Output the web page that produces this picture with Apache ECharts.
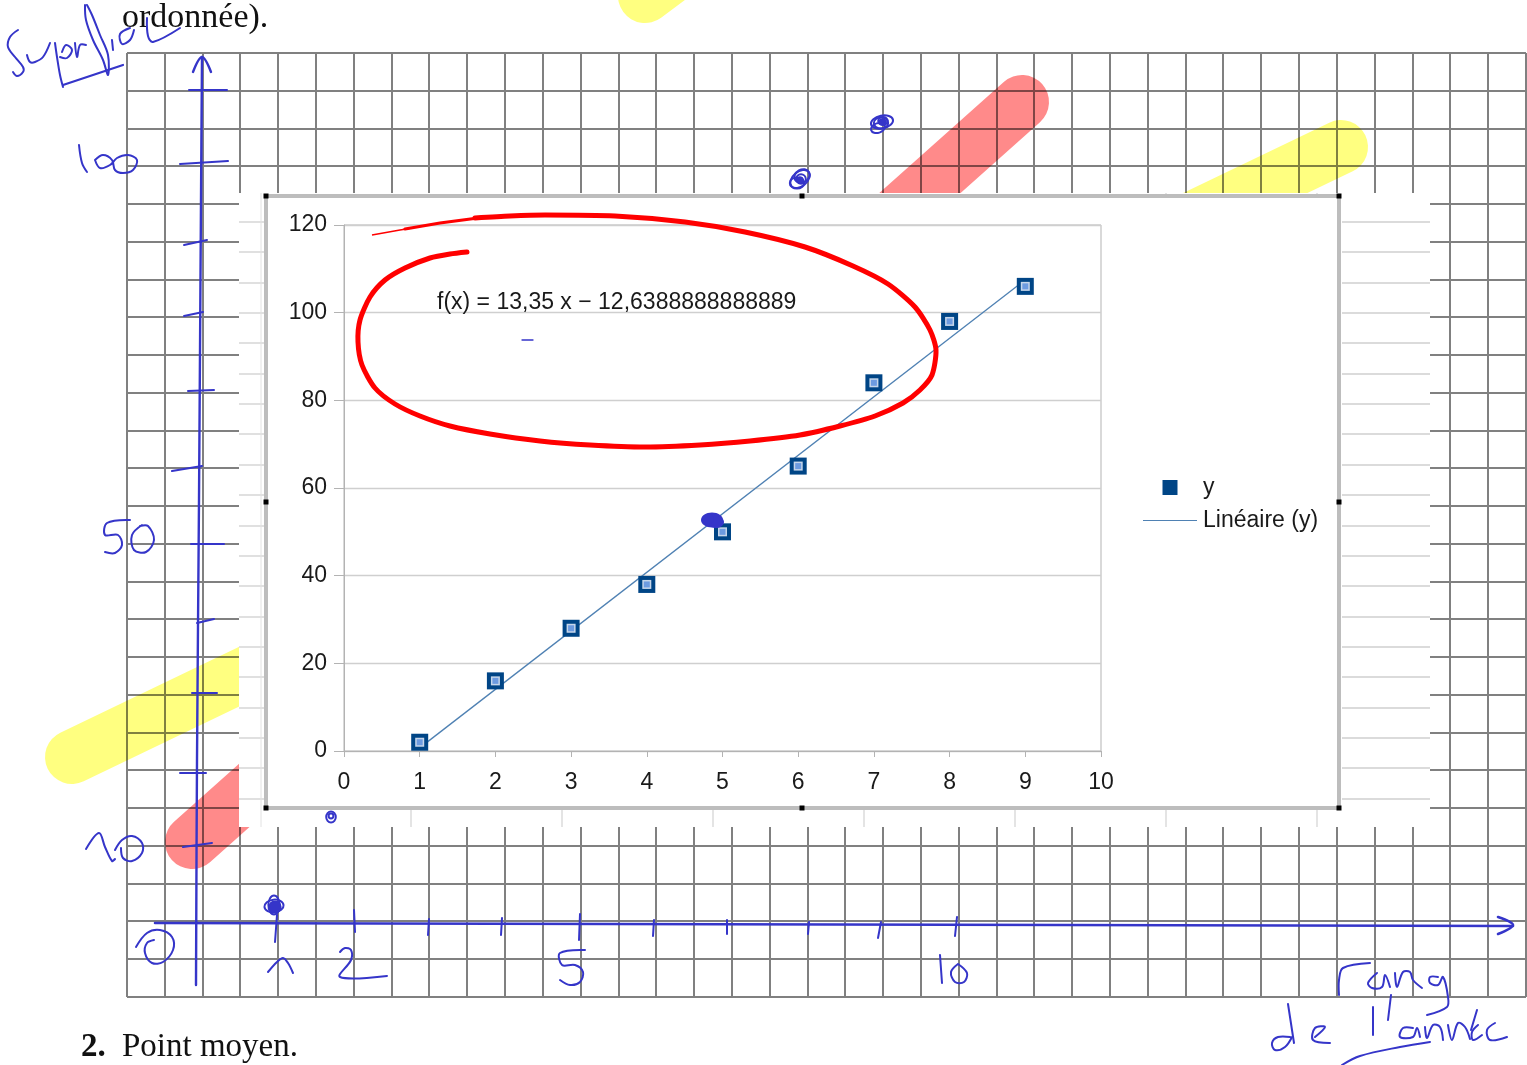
<!DOCTYPE html>
<html><head><meta charset="utf-8">
<style>html,body{margin:0;padding:0;background:#fff}#c{width:1527px;height:1065px}</style>
<script src="https://cdn.jsdelivr.net/npm/echarts@6/dist/echarts.min.js"></script>
</head><body><div id="c"></div>
<script>
// ---- chart data ----
const rankValues = [1,2,3,4,5,6,7,8,9];
const areaValues = [2,16,28,38,50,65,84,98,106];
const trendRanks = [1,9];
const trendValues = [0.71,107.51];
const equationText = 'f(x) = 13,35 x \u2212 12,6388888888889';
const legendPoints = 'y';
const legendTrend = 'Lin\u00e9aire (y)';
const BLUE = '#3535c9', INK = '#1a1a1a';

// ---- handwriting / decoration over the chart ----
const inkStrokes = [
 // vertical axis + arrow
 [2.4,[[202,57],[201,200],[199,500],[197,760],[196,985]]],
 [2.4,[[193,72],[202,57],[211,72]]],
 // y ticks
 [2,[[189,90],[227,90]]],[2,[[180,164],[228,161]]],[2,[[184,245],[207,240]]],[2,[[184,316],[203,312]]],
 [2,[[188,391],[214,390]]],[2,[[172,471],[202,466]]],[2,[[191,544],[224,544]]],[2,[[197,623],[214,619]]],
 [2,[[192,693],[217,693]]],[2,[[180,773],[206,773]]],[2,[[183,847],[212,843]]],
 // horizontal axis + arrow
 [2.6,[[155,923],[1513,926]]],
 [2.6,[[1498,917],[1513,925],[1498,934]]],
 // x ticks
 [2,[[277,915],[275,942]]],[2,[[354,910],[355,932]]],[2,[[429,919],[428,935]]],[2,[[502,918],[501,935]]],
 [2,[[580,914],[579,940]]],[2,[[654,920],[653,936]]],[2,[[727,920],[727,934]]],[2,[[809,922],[808,934]]],
 [2,[[881,922],[878,938]]],[2,[[957,917],[955,936]]],
 // axis numbers
 [2,[[136,947],[147,933],[160,930],[172,937],[173,950],[163,962],[152,963],[145,953],[147,943],[154,940]]],
 [2,[[268,972],[277,962],[283,958],[288,963],[293,973]]],
 [2,[[340,952],[345,948],[351,950],[351,960],[340,977],[387,976]]],
 [2,[[585,950],[560,953],[562,965],[575,965],[583,972],[580,982],[570,985],[560,980]]],
 [2,[[940,955],[942,983]]],
 [2,[[958,964],[951,972],[955,982],[964,982],[967,973],[958,964]]],
 [2,[[130,520],[107,523],[105,535],[118,535],[122,545],[115,553],[105,552]]],
 [2,[[142,525],[132,535],[134,550],[146,552],[154,540],[148,526],[140,526]]],
 [2,[[79,145],[82,163],[87,172]]],
 [2,[[95,160],[103,155],[112,160],[115,170],[123,173],[133,170],[137,160],[128,155],[117,158],[110,165],[100,168],[95,160]]],
 [2,[[86,849],[99,833],[105,847],[112,861],[115,859]]],
 [2,[[115,850],[122,840],[132,836],[142,843],[142,853],[132,861],[123,858],[121,848]]],
 // "Superficie" + corner
 [2,[[18,30],[10,37],[8,47],[15,57],[23,67],[23,72],[17,76],[13,72]]],
 [2,[[27,55],[30,62],[35,62],[43,57],[50,43]]],
 [2,[[55,43],[57,57],[60,75],[63,87]]],
 [2.2,[[63,85],[123,65]]],
 [2,[[60,57],[67,58],[72,50],[66,45],[62,52]]],
 [2,[[75,43],[77,57],[80,45],[86,45]]],
 [2,[[85,5],[86,20],[93,40],[103,60],[108,75],[108,55],[100,35],[92,15],[87,5]]],
 [2,[[112,40],[113,50]]],
 [2,[[130,28],[120,34],[122,44],[130,40],[134,30]]],
 [2,[[147,18],[148,36],[153,42],[180,28]]],
 // "rang de l'annee"
 [2,[[1339,995],[1339,980],[1343,968],[1370,963]]],
 [2,[[1377,973],[1368,983],[1372,988],[1382,987],[1385,975],[1390,987]]],
 [2,[[1395,973],[1397,987],[1403,972],[1410,972],[1413,980],[1422,988]]],
 [2,[[1438,977],[1430,977],[1430,983],[1438,985],[1443,977],[1448,997],[1447,1007],[1427,1015]]],
 [2,[[1288,1004],[1294,1043]]],
 [2,[[1290,1037],[1278,1037],[1272,1043],[1275,1050],[1285,1047],[1292,1037]]],
 [2,[[1315,1037],[1325,1027],[1315,1028],[1313,1040],[1330,1043]]],
 [2,[[1373,1007],[1373,1035]]],
 [2,[[1391,995],[1388,1020]]],
 [2,[[1413,1028],[1403,1028],[1400,1037],[1413,1037],[1417,1028],[1420,1037]]],
 [2,[[1425,1027],[1427,1038],[1433,1025],[1440,1027],[1443,1040]]],
 [2,[[1448,1025],[1452,1040],[1458,1023],[1465,1027],[1470,1039]]],
 [2,[[1471,1030],[1477,1010]]],
 [2,[[1478,1025],[1472,1032],[1473,1040],[1482,1035]]],
 [2,[[1495,1023],[1487,1030],[1490,1040],[1507,1037]]],
 [2,[[1342,1065],[1360,1056],[1400,1047],[1430,1042]]],
 // small dash in chart
 [1.3,[[522,340],[533,340]]]
];
const scribbles = [
 [882,122,14,8,0.2],[881,123,9,7,0],[878,128,9,6,0.3],[883,121,6,5,0],[882,122,3,3,0],
 [800,179,14,9,0.7],[802,176,10,8,0.5],[797,183,9,7,0],[801,179,6,6,0],[800,180,3,3,0],
 [274,906,12,8,0.1],[274,905,7,12,0],[275,907,7,7,0],[274,906,4,4,0],
 [331,817,6,7,0],[331,816,3,3,0]
];
const scribbleBlobs = [[712,520,11,7.5],[716,522,8,6],[708,519,6,5],[275,907,6,6],[883,122,4,3.5],[800,180,4,3.5]];
const redLoopThin = [[372,235],[400,230],[412,228]];
const redLoopMid = [[405,229],[440,223],[478,218]];
const redLoop = [[475,218],[510,216],[545,215],[615,216],[685,222],[745,232],[805,247],[853,266],[888,284],[915,307],[930,330],[936,350],[932,375],[920,390],[903,403],[875,416],[840,426],[800,435],[750,441],[700,445],[645,447],[590,445],[540,441],[490,434],[450,426],[420,416],[395,404],[375,388],[362,365],[358,342],[360,320],[370,297],[385,280],[405,268],[430,258],[450,254],[467,252]];
const highlightStrokes = [
 ['#ff8a8a',[[192,842],[1022,102]]],
 ['#ffff80',[[72,757],[1341,147]]],
 ['#ffff80',[[645,-4],[680,-30]]]
];

// ---- notebook paper + pasted panel ----
const g = [];
const seg = (x1,y1,x2,y2,stroke,lineWidth,z)=>g.push({type:'line',z,silent:true,shape:{x1,y1,x2,y2},style:{stroke,lineWidth}});
for(let i=0;i<=37;i++){const x=Math.round(127+i*37.81);seg(x,53,x,997,'#808080',2,-30);}
for(let i=0;i<=25;i++){const y=Math.round(53+i*37.76);seg(127,y,1526,y,'#808080',2,-30);}
highlightStrokes.forEach(([c,pts])=>g.push({type:'polyline',z:-20,silent:true,shape:{points:pts},style:{stroke:c,lineWidth:54,lineCap:'round',fill:null,blend:'multiply'}}));
g.push({type:'rect',z:-15,silent:true,shape:{x:239,y:193,width:1191,height:634},style:{fill:'#fff'}});
for(let i=0;i<20;i++){const y=Math.round(222+i*30.35);
  seg(239,y,266,y,'#cfcfcf',1.3,-14);seg(1342,y,1430,y,'#cfcfcf',1.3,-14);}
seg(261,193,261,827,'#e2e2e2',1,-14);
for(let i=0;i<7;i++){const x=Math.round(411+i*151);seg(x,808,x,827,'#d2d2d2',1.2,-14);}
[1166,1317].forEach(x=>seg(x,193,x,196,'#d2d2d2',1.2,-14));
g.push({type:'rect',z:-13,silent:true,shape:{x:266,y:196,width:1073,height:612},style:{fill:'#fff',stroke:'#bdbdbd',lineWidth:4}});
[[266,196],[802,196],[1339,196],[266,502],[1339,502],[266,808],[802,808],[1339,808]].forEach(([x,y])=>
  g.push({type:'rect',z:-12,silent:true,shape:{x:x-2.5,y:y-2.5,width:5,height:5},style:{fill:'#000'}}));
// ---- page text ----
const pageText=(text,x,y,font)=>g.push({type:'text',z:20,silent:true,x,y,style:{text,font,fill:'#111'}});
pageText('ordonn\u00e9e).',122,1,'34px "Liberation Serif"');
pageText('2.',81,1031,'bold 33px "Liberation Serif"');
pageText('Point moyen.',122,1031,'33px "Liberation Serif"');
g.push({type:'text',z:20,silent:true,x:437,y:291,style:{text:equationText,font:'23px "Liberation Sans"',fill:INK}});
// ---- ink ----
inkStrokes.forEach(([w,pts])=>g.push({type:'polyline',z:30,silent:true,shape:{points:pts,smooth:pts.length>2?0.35:0},style:{stroke:BLUE,lineWidth:w,lineCap:'round',lineJoin:'round',fill:null}}));
scribbles.forEach(([cx,cy,rx,ry,r])=>g.push({type:'ellipse',z:30,silent:true,x:cx,y:cy,rotation:r,shape:{cx:0,cy:0,rx:rx*0.8,ry:ry*0.8},style:{stroke:BLUE,lineWidth:2,fill:null}}));
scribbleBlobs.forEach(([cx,cy,rx,ry])=>g.push({type:'ellipse',z:30,silent:true,shape:{cx,cy,rx,ry},style:{fill:BLUE}}));
g.push({type:'polyline',z:30,silent:true,shape:{points:redLoopThin},style:{stroke:'#ff0000',lineWidth:1.5,fill:null}});
g.push({type:'polyline',z:30,silent:true,shape:{points:redLoopMid},style:{stroke:'#ff0000',lineWidth:3.2,lineCap:'round',fill:null}});
g.push({type:'polyline',z:30,silent:true,shape:{points:redLoop,smooth:0.25},style:{stroke:'#ff0000',lineWidth:5,lineCap:'round',lineJoin:'round',fill:null}});

const pts = rankValues.map((x,i)=>[x,areaValues[i]]);
const trend = trendRanks.map((x,i)=>[x,trendValues[i]]);
const axisLbl = {color:INK,fontFamily:'Liberation Sans',fontSize:23};
const chart = echarts.init(document.getElementById('c'),null,{renderer:'canvas'});
chart.setOption({
  animation:false,
  backgroundColor:'#fff',
  textStyle:{fontFamily:'Liberation Sans'},
  graphic:{elements:g},
  grid:{left:344,top:225,width:757,height:526,show:true,borderColor:'#b3b3b3',borderWidth:1,backgroundColor:'transparent'},
  legend:{orient:'vertical',left:1138,top:471,itemWidth:54,itemHeight:15,itemGap:10,itemStyle:{},
    textStyle:{color:INK,fontSize:23,fontFamily:'Liberation Sans',padding:[0,0,0,1]},
    data:[{name:legendPoints,icon:'path://M0 0h10v10h-10z'},{name:legendTrend,icon:'path://M0 0h108v2h-108z'}]},
  xAxis:{type:'value',min:0,max:10,interval:1,splitLine:{show:false},
    axisLine:{onZero:false,lineStyle:{color:'#b3b3b3'}},axisTick:{show:true,length:6,lineStyle:{color:'#b3b3b3'}},
    axisLabel:{...axisLbl,margin:20}},
  yAxis:{type:'value',min:0,max:120,interval:20,
    splitLine:{lineStyle:{color:'#cfcfcf',width:1.4}},
    axisLine:{show:true,lineStyle:{color:'#b3b3b3'}},axisTick:{show:true,length:10,lineStyle:{color:'#b3b3b3'}},
    axisLabel:{...axisLbl,margin:17}},
  series:[
    {name:legendTrend,type:'line',data:trend,symbol:'none',lineStyle:{color:'#4f81b3',width:1.3},itemStyle:{color:'#4f81b3'},z:2},
    {name:legendPoints,type:'scatter',data:pts,symbol:'rect',symbolSize:17,itemStyle:{color:'#004586',opacity:1},z:3},
    {name:'_frame',type:'scatter',data:pts,symbol:'rect',symbolSize:9,itemStyle:{color:'#c6d6ea',opacity:1},z:4},
    {name:'_core',type:'scatter',data:pts,symbol:'rect',symbolSize:6,itemStyle:{color:'#6d9be0',opacity:1},z:5}
  ]
});
</script></body></html>
